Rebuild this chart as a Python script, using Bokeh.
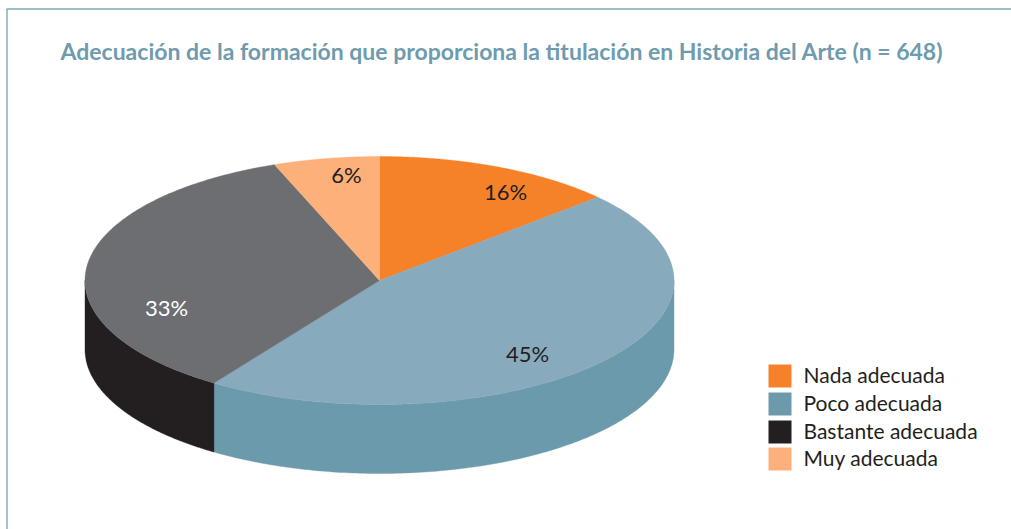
import numpy as np
from bokeh.plotting import figure
from bokeh.embed import file_html
from bokeh.resources import INLINE
from bokeh.core.properties import value

title = "Adecuación de la formación que proporciona la titulación en Historia del Arte (n = 648)"
categories = ["Nada adecuada", "Poco adecuada", "Bastante adecuada", "Muy adecuada"]
labels = ["16%", "45%", "33%", "6%"]
# Slice shares as they are drawn in the picture (read from the slice boundaries)
drawn_shares = [13.3, 46.2, 34.7, 5.8]
top_colors = ["#F58229", "#88AABD", "#6D6E71", "#FDB07A"]
side_colors = ["#F58229", "#6C9AAD", "#231F20", "#FDB07A"]
legend_colors = ["#F58229", "#6C9AAD", "#231F20", "#FDB07A"]

CX, CY, RX, RY, DEPTH = 379.0, 280.0, 294.5, 124.0, 69.0
FONT = "Lato"

p = figure(width=1011, height=529, x_range=(0, 1011), y_range=(529, 0),
           output_backend="svg", toolbar_location=None, min_border=0,
           outline_line_color=None, background_fill_color="white")
p.axis.visible = False
p.grid.visible = False

# frame
p.line([6.5, 6.5, 1011], [529, 8.5, 8.5], line_color="#7FA8BA", line_width=1.4)

def ell(a, dy=0.0):
    return CX + RX * np.sin(a), CY + dy - RY * np.cos(a)

edges = np.concatenate([[0], np.cumsum(drawn_shares)]) / sum(drawn_shares) * 2 * np.pi

# side walls: only the front half (90 to 270 degrees) is visible
for i in range(len(drawn_shares)):
    a0, a1 = max(edges[i], np.pi / 2), min(edges[i + 1], 3 * np.pi / 2)
    if a1 <= a0:
        continue
    a = np.linspace(a0, a1, 160)
    x, y = ell(a)
    xb, yb = ell(a[::-1], DEPTH)
    p.patch(np.r_[x, xb], np.r_[y, yb], fill_color=side_colors[i],
            line_color=side_colors[i], line_width=0.4)

# top face
for i in range(len(drawn_shares)):
    a = np.linspace(edges[i], edges[i + 1], 200)
    x, y = ell(a)
    p.patch(np.r_[CX, x], np.r_[CY, y], fill_color=top_colors[i],
            line_color=top_colors[i], line_width=0.4)

# percentage labels
lx = [505, 527, 166, 346]
ly = [191, 353, 307, 174]
lc = ["#231F20", "#231F20", "#FFFFFF", "#231F20"]
p.text(lx, ly, text=labels, text_color=lc, text_font=value(FONT), text_font_size="22px",
       text_align="center", text_baseline="middle")

# title
p.text([60], [50.5], text=[title], text_color="#6F9BAE", text_font=value(FONT),
       text_font_style="bold", text_font_size="23px", text_align="left", text_baseline="middle")

# legend
sq_y = [375.5, 403.5, 431.5, 458.5]
p.rect([779.5] * 4, sq_y, width=23, height=23, fill_color=legend_colors, line_color=None)
p.text([803] * 4, [374, 402, 430, 456.5], text=categories, text_color="#231F20",
       text_font=value(FONT), text_font_size="21px", text_align="left", text_baseline="middle")

open("out.html", "w").write(file_html(p, INLINE))
